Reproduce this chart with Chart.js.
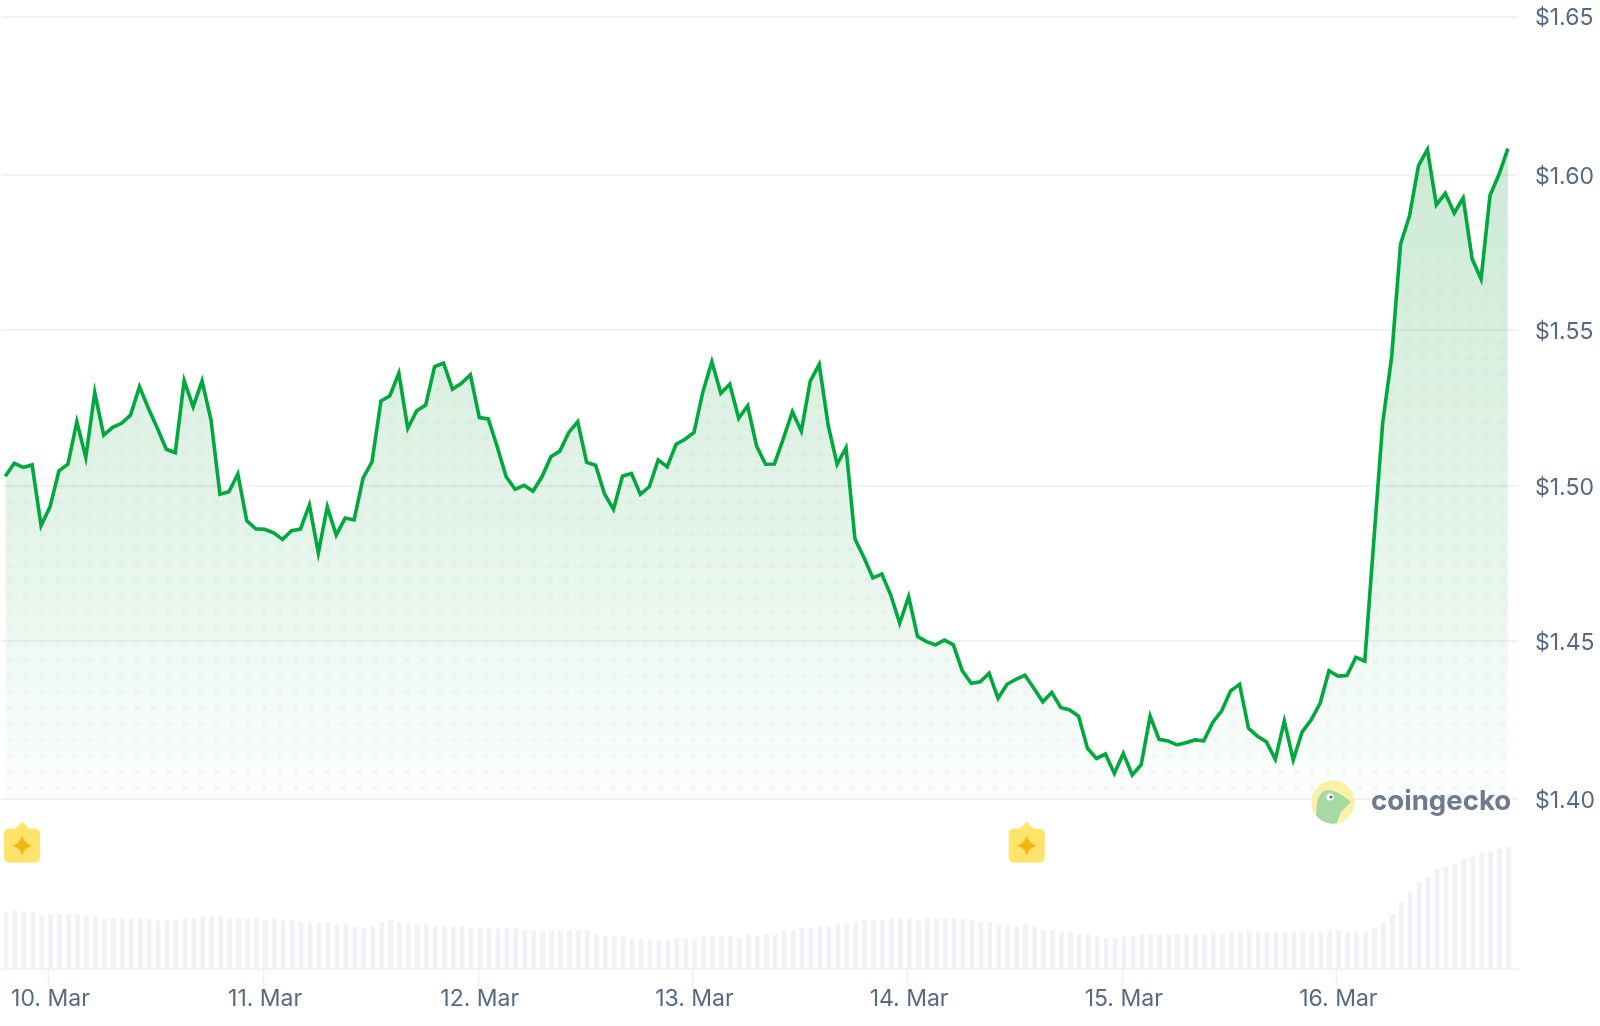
<!DOCTYPE html>
<html>
<head>
<meta charset="utf-8">
<title>Price chart</title>
<script src="https://cdn.jsdelivr.net/npm/chart.js@4/dist/chart.umd.min.js"></script>
<style>
  html, body { margin: 0; padding: 0; background: #fff; }
  canvas { display: block; }
</style>
</head>
<body>
<canvas id="priceChart" width="1600" height="1026"></canvas>
<script>
// hourly prices
const prices = [
  1.5031, 1.5072, 1.5059, 1.5067, 1.4873, 1.4933, 1.5048, 1.5069, 1.5205, 1.5091,
  1.5298, 1.5162, 1.5187, 1.5200, 1.5226, 1.5317, 1.5248, 1.5184, 1.5117, 1.5106,
  1.5336, 1.5253, 1.5335, 1.5210, 1.4973, 1.4981, 1.5038, 1.4888, 1.4863, 1.4861,
  1.4850, 1.4829, 1.4857, 1.4862, 1.4939, 1.4786, 1.4933, 1.4843, 1.4897, 1.4891,
  1.5025, 1.5077, 1.5271, 1.5288, 1.5360, 1.5184, 1.5240, 1.5258, 1.5381, 1.5392,
  1.5309, 1.5328, 1.5355, 1.5218, 1.5214, 1.5125, 1.5029, 1.4989, 1.5002, 1.4983,
  1.5029, 1.5093, 1.5111, 1.5171, 1.5205, 1.5075, 1.5066, 1.4974, 1.4925, 1.5031,
  1.5040, 1.4973, 1.4997, 1.5083, 1.5061, 1.5133, 1.5149, 1.5171, 1.5301, 1.5397,
  1.5296, 1.5325, 1.5216, 1.5256, 1.5127, 1.5069, 1.5070, 1.5152, 1.5237, 1.5175,
  1.5335, 1.5388, 1.5194, 1.5069, 1.5122, 1.4830, 1.4771, 1.4706, 1.4718, 1.4651,
  1.4561, 1.4646, 1.4518, 1.4502, 1.4492, 1.4507, 1.4492, 1.4409, 1.4369, 1.4374,
  1.4401, 1.4321, 1.4366, 1.4382, 1.4395, 1.4353, 1.4310, 1.4340, 1.4292, 1.4284,
  1.4264, 1.4161, 1.4129, 1.4143, 1.4081, 1.4145, 1.4076, 1.4109, 1.4264, 1.4190,
  1.4185, 1.4172, 1.4179, 1.4188, 1.4185, 1.4244, 1.4281, 1.4345, 1.4366, 1.4225,
  1.4200, 1.4182, 1.4126, 1.4248, 1.4124, 1.4214, 1.4252, 1.4305, 1.4409, 1.4392,
  1.4394, 1.4452, 1.4440, 1.4821, 1.5201, 1.5412, 1.5773, 1.5863, 1.6023, 1.6075,
  1.5898, 1.5935, 1.5872, 1.5920, 1.5726, 1.5661, 1.5928, 1.5995, 1.6078
];

// volume bars, arbitrary units
const volumes = [
  56.3, 58.3, 56.3, 56.3, 52.3, 54.3, 54.3, 54.3, 54.3, 52.3,
  52.3, 50.3, 50.3, 50.3, 50.3, 50.3, 50.3, 48.3, 48.3, 48.3,
  50.3, 50.3, 52.3, 52.3, 52.3, 50.3, 50.3, 50.3, 50.3, 48.3,
  50.3, 48.3, 48.3, 46.3, 46.3, 46.3, 46.3, 44.3, 44.3, 42.3,
  40.3, 42.3, 46.3, 48.3, 46.3, 46.3, 44.3, 44.3, 42.3, 42.3,
  42.3, 42.3, 40.3, 40.3, 40.3, 40.3, 40.3, 40.3, 38.3, 38.3,
  38.3, 38.3, 38.3, 38.3, 38.3, 38.3, 34.3, 32.3, 32.3, 32.3,
  30.3, 30.3, 28.3, 28.3, 28.3, 30.3, 30.3, 30.3, 32.3, 32.3,
  32.3, 32.3, 30.3, 34.3, 32.3, 34.3, 34.3, 38.3, 38.3, 40.3,
  40.3, 42.3, 42.3, 44.3, 46.3, 46.3, 48.3, 48.3, 48.3, 50.3,
  50.3, 50.3, 48.3, 50.3, 50.3, 50.3, 50.3, 50.3, 48.3, 46.3,
  46.3, 44.3, 44.3, 42.3, 44.3, 42.3, 38.3, 38.3, 36.3, 36.3,
  34.3, 34.3, 32.3, 30.3, 30.3, 32.3, 32.3, 34.3, 34.3, 34.3,
  34.3, 34.3, 34.3, 34.3, 34.3, 36.3, 34.3, 36.3, 36.3, 38.3,
  36.3, 36.3, 36.3, 36.3, 36.3, 36.3, 36.3, 36.3, 38.3, 38.3,
  36.3, 36.3, 36.3, 40.3, 46.3, 54.3, 66.3, 76.3, 86.3, 92,
  100, 102, 104, 110, 112, 116, 118, 120, 122
];

const dayTicks = [4.88, 28.88, 52.88, 76.88, 100.88, 124.88, 148.88];
const dayLabels = ["10. Mar", "11. Mar", "12. Mar", "13. Mar", "14. Mar", "15. Mar", "16. Mar"];
const priceTicks = [1.4, 1.4504, 1.5, 1.5498, 1.5992, 1.65];
const priceLabels = ["$1.40", "$1.45", "$1.50", "$1.55", "$1.60", "$1.65"];
const markerHours = [1.87, 114.2];

const GREY = "#f0f2f6";
const TEXT = "#566a82";
const LINE = "#00a83e";

// halftone dots under the line, bigger towards the bottom
function dotPattern(ctx) {
  const c = document.createElement("canvas");
  c.width = 1600;
  c.height = 1026;
  const p = c.getContext("2d");
  p.fillStyle = "rgba(0, 150, 50, 0.035)";
  for (let row = 0; row < 45; row++) {
    const y = 788 - row * 15.9;
    const r = y >= 290 ? 3 : Math.max(0.6, 3 * (y - 170) / 120);
    for (let col = 0; col < 96; col++) {
      p.beginPath();
      p.arc(10 + col * 15.88, y, r, 0, Math.PI * 2);
      p.fill();
    }
  }
  return ctx.createPattern(c, "no-repeat");
}

function markerIcon() {
  const c = document.createElement("canvas");
  c.width = 38;
  c.height = 44;
  const p = c.getContext("2d");
  p.fillStyle = "#ffe36b";
  p.beginPath();
  p.moveTo(19, 1);
  p.lineTo(26, 8);
  p.lineTo(32, 8);
  p.quadraticCurveTo(37, 8, 37, 13);
  p.lineTo(37, 37);
  p.quadraticCurveTo(37, 42, 32, 42);
  p.lineTo(6, 42);
  p.quadraticCurveTo(1, 42, 1, 37);
  p.lineTo(1, 13);
  p.quadraticCurveTo(1, 8, 6, 8);
  p.lineTo(12, 8);
  p.closePath();
  p.fill();
  p.fillStyle = "#eeb60f";
  p.beginPath();
  p.moveTo(19, 15);
  p.quadraticCurveTo(21, 23, 29, 25);
  p.quadraticCurveTo(21, 27, 19, 35);
  p.quadraticCurveTo(17, 27, 9, 25);
  p.quadraticCurveTo(17, 23, 19, 15);
  p.fill();
  return c;
}

const logo = {
  id: "logo",
  afterDraw(chart) {
    const ctx = chart.ctx;
    const cx = 1333, cy = 802;
    ctx.save();
    ctx.beginPath();
    ctx.arc(cx, cy, 21.7, 0, Math.PI * 2);
    ctx.fillStyle = "#fdf0a9";
    ctx.fill();
    ctx.clip();
    ctx.beginPath();
    ctx.moveTo(cx - 16, cy + 3);
    ctx.quadraticCurveTo(cx - 15, cy - 11, cx - 5, cy - 12);
    ctx.quadraticCurveTo(cx + 4, cy - 12, cx + 18, cy);
    ctx.lineTo(cx + 8, cy + 10);
    ctx.lineTo(cx + 3, cy + 23);
    ctx.lineTo(cx - 18, cy + 23);
    ctx.closePath();
    ctx.fillStyle = "#a7d9a2";
    ctx.fill();
    ctx.beginPath();
    ctx.arc(cx - 3, cy - 5, 3.6, 0, Math.PI * 2);
    ctx.fillStyle = "#fff";
    ctx.fill();
    ctx.beginPath();
    ctx.arc(cx - 2, cy - 5, 1.6, 0, Math.PI * 2);
    ctx.fillStyle = "#5d6b80";
    ctx.fill();
    ctx.restore();

    ctx.save();
    ctx.font = "700 27.6px Inter";
    ctx.fillStyle = "#6d7a90";
    ctx.textBaseline = "alphabetic";
    ctx.fillText("coingecko", 1371, 810);
    ctx.restore();
  }
};

const canvas = document.getElementById("priceChart");
const ctx = canvas.getContext("2d");

const data = {
  datasets: [
    {
      type: "line",
      data: prices.map((p, i) => ({ x: i, y: p })),
      yAxisID: "y",
      borderColor: LINE,
      borderWidth: 3.6,
      borderJoinStyle: "miter",
      pointRadius: 0,
      tension: 0,
      fill: { value: 1.4 },
      order: 1,
      backgroundColor(c) {
        const chart = c.chart;
        if (!chart.chartArea) return "transparent";
        const y = chart.scales.y;
        const g = chart.ctx.createLinearGradient(0, y.getPixelForValue(1.6078), 0, y.getPixelForValue(1.4));
        g.addColorStop(0, "rgba(0, 150, 50, 0.2)");
        g.addColorStop(0.46, "rgba(0, 150, 50, 0.12)");
        g.addColorStop(0.69, "rgba(0, 150, 50, 0.085)");
        g.addColorStop(0.8, "rgba(0, 150, 50, 0.05)");
        g.addColorStop(1, "rgba(0, 150, 50, 0.01)");
        return g;
      }
    },
    {
      type: "line",
      data: prices.map((p, i) => ({ x: i, y: p })),
      yAxisID: "y",
      borderWidth: 0,
      borderColor: "transparent",
      pointRadius: 0,
      tension: 0,
      fill: { value: 1.4 },
      backgroundColor: dotPattern(ctx),
      order: 2
    },
    {
      type: "bar",
      data: volumes.map((v, i) => ({ x: i + 0.08, y: v })),
      yAxisID: "y1",
      backgroundColor: GREY,
      barThickness: 4,
      order: 3
    },
    {
      type: "scatter",
      data: markerHours.map(h => ({ x: h, y: 1.386 })),
      yAxisID: "y",
      pointStyle: markerIcon(),
      pointRadius: 20,
      clip: false,
      order: 0
    }
  ]
};

const options = {
  responsive: false,
  animation: false,
  layout: { autoPadding: false, padding: { top: 16.5, left: 2, right: 0, bottom: 0 } },
  plugins: { legend: { display: false }, tooltip: { enabled: false } },
  events: [],
  scales: {
    x: {
      type: "linear",
      min: -0.369,
      max: 169.13,
      offset: false,
      grid: { offset: false, drawOnChartArea: false, drawTicks: true, tickLength: 18, tickColor: GREY, tickWidth: 2 },
      border: { display: true, color: GREY, width: 2 },
      afterBuildTicks(scale) { scale.ticks = dayTicks.map(v => ({ value: v })); },
      afterFit(scale) {
        scale.height = 57;
        scale.paddingLeft = 0;
        scale.paddingRight = 0;
      },
      ticks: {
        autoSkip: false,
        maxRotation: 0,
        padding: -1.5,
        labelOffset: 1.5,
        color: TEXT,
        font: { family: "Inter", size: 23 },
        callback: (v, i) => dayLabels[i]
      }
    },
    y: {
      position: "right",
      min: 1.3456,
      max: 1.65,
      grid: { color: GREY, lineWidth: 2, drawTicks: false },
      border: { display: false },
      afterBuildTicks(scale) { scale.ticks = priceTicks.map(v => ({ value: v })); },
      afterFit(scale) {
        scale.width = 82;
        scale.paddingTop = 0;
        scale.paddingBottom = 0;
      },
      ticks: {
        autoSkip: false,
        padding: 17,
        labelOffset: 2,
        color: TEXT,
        font: { family: "Inter", size: 23 },
        callback: (v, i) => priceLabels[i]
      }
    },
    y1: { display: false, min: 0, max: 952.5 }
  }
};

new Chart(canvas, { data, options, plugins: [logo] });
</script>
</body>
</html>
